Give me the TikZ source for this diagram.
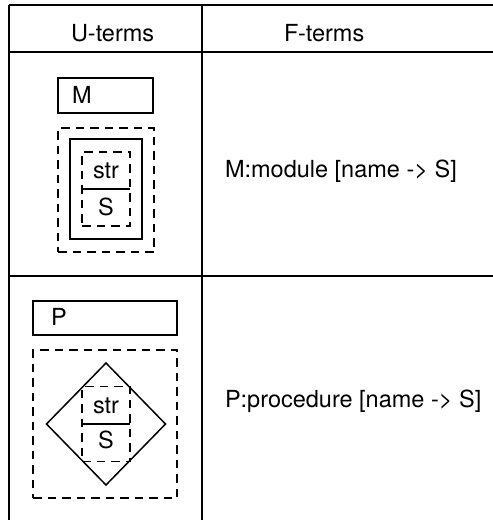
\documentclass[tikz,border=0pt]{standalone}
\usepackage{fontspec}
\setmainfont{TeX Gyre Heros}
\usetikzlibrary{shapes.geometric}
\begin{document}
\begin{tikzpicture}[x=1pt,y=-1pt,
  every node/.style={font=\fontsize{23.5}{27}\selectfont, inner sep=0pt, outer sep=0pt},
  rule/.style={line width=1.4pt},
  namebox/.style={draw, line width=1.5pt, rectangle},
  dashbox/.style={draw, line width=1.5pt, rectangle, dash pattern=on 8.5pt off 6pt},
  solidbox/.style={draw, line width=1.5pt, rectangle},
  rhombus/.style={draw, line width=1.5pt, diamond},
  txt/.style={anchor=base west},
  ctxt/.style={anchor=base}]
\useasboundingbox (0,0) rectangle (493,520);

% table grid
\coordinate (tl) at (9,5);
\coordinate (tr) at (493,5);
\coordinate (hl) at (9,52);
\coordinate (hr) at (493,52);
\coordinate (rl) at (9,276);
\coordinate (rr) at (493,276);
\coordinate (bl) at (9,520);
\coordinate (ct) at (202,5);
\coordinate (cb) at (202,520);
\draw[rule] (tl) -- (tr);
\draw[rule] (hl) -- (hr);
\draw[rule] (rl) -- (rr);
\draw[rule] (tl) -- (bl);
\draw[rule] (ct) -- (cb);

% header
\node[txt] (uhead) at (71,41.5) {U-terms};
\node[txt] (fhead) at (284,41.5) {F-terms};

% module row
\node[namebox, minimum width=95pt, minimum height=35pt] (mbox) at (105.5,95.5) {};
\node[txt] (mname) at (72,103) {M};
\node[dashbox, minimum width=96pt, minimum height=124pt] (mouter) at (106,190) {};
\node[solidbox, minimum width=72pt, minimum height=100pt] (mrect) at (106,189) {};
\node[dashbox, minimum width=48pt, minimum height=74pt] (mstr) at (106,189) {};
\draw[line width=1.5pt] (mstr.west) -- (mstr.east);
\node[ctxt] (mstrt) at (106,178) {str};
\node[ctxt] (mst) at (106,215) {S};
\node[txt] (mterm) at (225,177) {M:module [name -> S]};

% procedure row
\node[namebox, minimum width=144pt, minimum height=34pt] (pbox) at (105,318) {};
\node[txt] (pname) at (51,325) {P};
\node[dashbox, minimum width=144pt, minimum height=148pt] (pouter) at (105,424) {};
\node[rhombus, minimum width=119pt, minimum height=122pt] (pdia) at (106,424) {};
\node[dashbox, minimum width=48pt, minimum height=75pt] (pstr) at (106,424) {};
\draw[line width=1.5pt] (pstr.west) -- (pstr.east);
\node[ctxt] (pstrt) at (106,413) {str};
\node[ctxt] (pst) at (106,448) {S};
\node[txt] (pterm) at (225,407) {P:procedure [name -> S]};
\end{tikzpicture}
\end{document}
